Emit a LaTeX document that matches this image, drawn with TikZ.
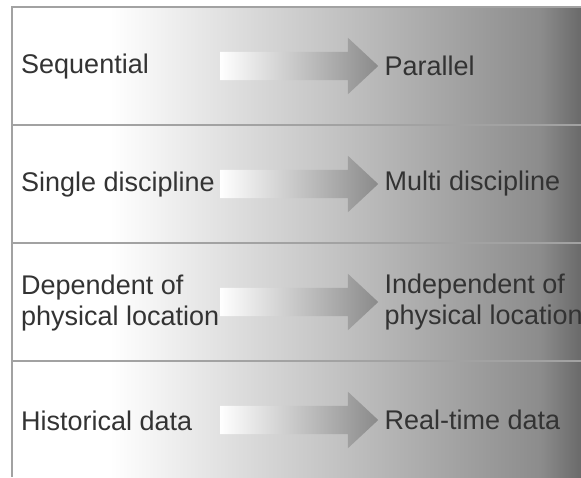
\documentclass[tikz,border=0pt]{standalone}
\usepackage{xcolor}
\usepackage{fontspec}
\setmainfont{Liberation Sans}
\usepackage{tikz}
\usetikzlibrary{shapes.arrows,positioning}

\definecolor{textgray}{HTML}{333333}
\definecolor{rulegray}{HTML}{A2A2A2}
\definecolor{shadegray}{HTML}{8C8C8C}
\definecolor{shadedark}{HTML}{6A6A6A}
\definecolor{arrowgray}{HTML}{8A8A8A}

\tikzset{
    rowtext/.style={text=textgray, inner sep=0, align=left},
    shiftarrow/.style={single arrow,
        left color=white,
        right color=arrowgray,
        draw=none,
        inner xsep=0,
        inner ysep=14pt,
        minimum height=158pt,
        single arrow head extend=14pt,
        single arrow tip angle=86},
    rowrule/.style={draw=rulegray, line width=2pt}
}

\begin{document}
\begin{tikzpicture}[x=1pt,y=-1pt,font=\fontsize{27}{31}\selectfont]

\useasboundingbox (0,0) rectangle (581,477);

% Background
\shade[left color=white, right color=shadegray] (110,7) rectangle (540,477);
\shade[left color=shadegray, right color=shadedark] (540,7) rectangle (581,477);

% Frame and row lines
\draw[rowrule] (581,7) -- (12,7) -- (12,477);
\draw[rowrule] (12,125) -- (581,125)
    (12,243) -- (581,243)
    (12,361) -- (581,361);

% Row 1
\node[rowtext, anchor=west] (from1) at (21,67) {Sequential};
\node[shiftarrow, anchor=tail] (arrow1) at (220,66) {};
\node[rowtext, right=6pt of arrow1.tip] (to1) {Parallel};

% Row 2
\node[rowtext, anchor=west] (from2) at (21,185) {Single discipline};
\node[shiftarrow, anchor=tail] (arrow2) at (220,184) {};
\node[rowtext, right=6pt of arrow2.tip] (to2) {Multi discipline};

% Row 3
\node[rowtext, anchor=west] (from3) at (21,303) {Dependent of\\physical location};
\node[shiftarrow, anchor=tail] (arrow3) at (220,302) {};
\node[rowtext, right=6pt of arrow3.tip] (to3) {Independent of\\physical location};

% Row 4
\node[rowtext, anchor=west] (from4) at (21,421) {Historical data};
\node[shiftarrow, anchor=tail] (arrow4) at (220,420) {};
\node[rowtext, right=6pt of arrow4.tip] (to4) {Real-time data};

\end{tikzpicture}
\end{document}
